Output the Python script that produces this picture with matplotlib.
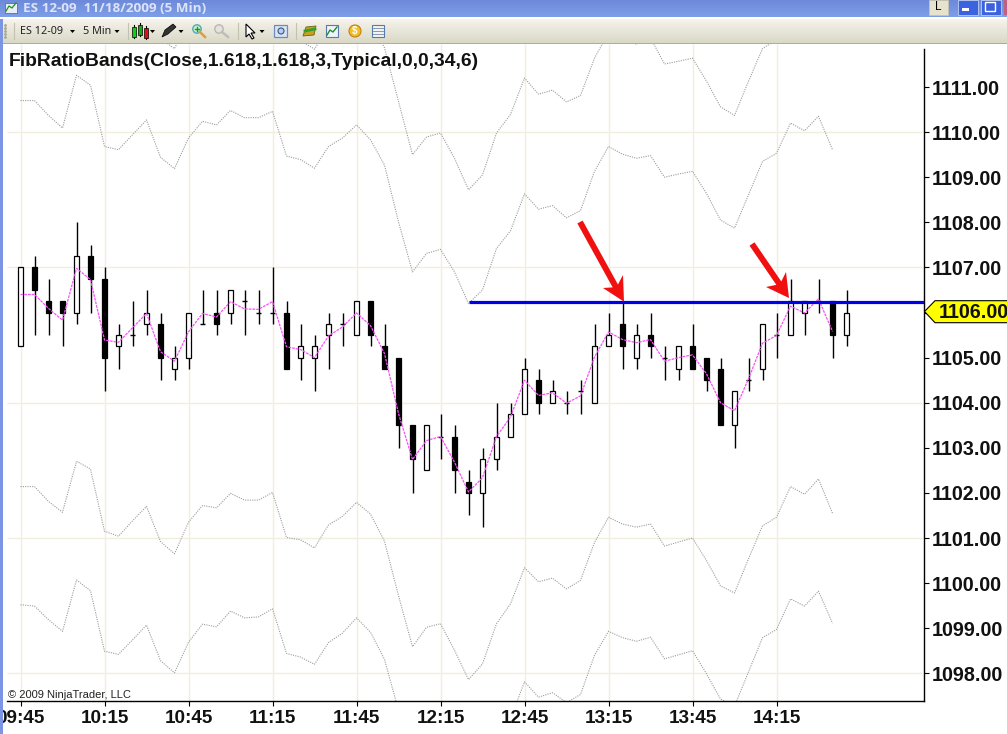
import matplotlib
matplotlib.use("Agg")
import matplotlib.pyplot as plt
import numpy as np
from matplotlib.patches import Polygon, Rectangle, Circle

# ---- data -----
time_labels = ["09:45", "10:15", "10:45", "11:15", "11:45", "12:15", "12:45", "13:15", "13:45", "14:15"]
price_ticks = [1098, 1099, 1100, 1101, 1102, 1103, 1104, 1105, 1106, 1107, 1108, 1109, 1110, 1111]
grid_prices = [1098, 1101, 1104, 1107, 1110]
title_text = "FibRatioBands(Close,1.618,1.618,3,Typical,0,0,34,6)"
level_price = 1106.23
level_start_bar = 32
marker_price = "1106.00"

opens = [1105.25, 1107, 1106.25, 1106.25, 1106, 1107.25, 1106.75, 1105.25, 1105.5, 1105.75,
         1105.75, 1104.75, 1105, 1105.75, 1106, 1106, 1106.25, 1106, 1106, 1106,
         1105, 1105, 1105.5, 1105.75, 1105.5, 1106.25, 1105.25, 1105, 1103.5, 1102.5,
         1103.25, 1103.25, 1102.25, 1102, 1102.75, 1103.25, 1103.75, 1104.5, 1104, 1104,
         1104.25, 1104, 1105.25, 1105.75, 1105, 1105.5, 1105, 1104.75, 1105.25, 1105,
         1104.75, 1103.5, 1104.5, 1104.75, 1105.5, 1105.5, 1106, 1106.25, 1106.25, 1105.5]
closes = [1107, 1106.5, 1106, 1106, 1107.25, 1106.75, 1105, 1105.5, 1105.5, 1106,
          1105, 1105, 1106, 1105.75, 1105.75, 1106.5, 1106.25, 1106, 1106, 1104.75,
          1105.25, 1105.25, 1105.75, 1105.75, 1106.25, 1105.5, 1104.75, 1103.5, 1102.75, 1103.5,
          1103.25, 1102.5, 1102, 1102.75, 1103.25, 1103.75, 1104.75, 1104, 1104.25, 1104,
          1104.25, 1105.25, 1105.5, 1105.25, 1105.5, 1105.25, 1105, 1105.25, 1104.75, 1104.5,
          1103.5, 1104.25, 1104.5, 1105.75, 1105.5, 1106.25, 1106.25, 1106.25, 1105.5, 1106]
highs = [1107, 1107.25, 1106.75, 1106.25, 1108, 1107.5, 1107, 1105.75, 1106.25, 1106.5,
         1106, 1105.25, 1106, 1106.5, 1106.5, 1106.5, 1106.5, 1106.5, 1107, 1106.25,
         1105.75, 1105.5, 1106, 1106, 1106.25, 1106.25, 1105.75, 1105, 1103.5, 1103.5,
         1103.75, 1103.5, 1102.5, 1103, 1104, 1104, 1105, 1104.75, 1104.5, 1104.25,
         1104.5, 1105.75, 1106, 1106.25, 1105.75, 1106, 1105.25, 1105.25, 1105.75, 1105,
         1105, 1104.25, 1105, 1105.75, 1106, 1106.75, 1106.25, 1106.75, 1106.25, 1106.5]
lows = [1105.25, 1105.5, 1105.5, 1105.25, 1105.75, 1106, 1104.25, 1104.75, 1105.25, 1105.5,
        1104.5, 1104.5, 1104.75, 1105.75, 1105.5, 1105.75, 1105.5, 1105.75, 1105.75, 1104.75,
        1104.5, 1104.25, 1104.75, 1105.25, 1105.5, 1105.25, 1104.75, 1103, 1102, 1102.5,
        1102.75, 1102, 1101.5, 1101.25, 1102.5, 1103.25, 1103.75, 1103.75, 1104, 1103.75,
        1103.75, 1104, 1105.25, 1104.75, 1104.75, 1105, 1104.5, 1104.5, 1104.75, 1104.25,
        1103.5, 1103, 1104.25, 1104.5, 1105, 1105.5, 1105.5, 1106, 1105, 1105.25]
typical_ma = [1106.4, 1106.4, 1106.09, 1105.83, 1106.98, 1106.73, 1105.39, 1105.34, 1105.66, 1105.98,
              1105.13, 1104.92, 1105.57, 1105.98, 1105.9, 1106.24, 1106.08, 1106.07, 1106.24, 1105.24,
              1105.18, 1105.0, 1105.48, 1105.68, 1105.99, 1105.71, 1105.09, 1103.76, 1102.74, 1103.16,
              1103.25, 1102.68, 1102.02, 1102.34, 1103.25, 1103.68, 1104.5, 1104.16, 1104.22, 1103.99,
              1104.15, 1105.01, 1105.57, 1105.4, 1105.33, 1105.4, 1104.92, 1105.0, 1105.06, 1104.64,
              1104.0, 1103.82, 1104.53, 1105.32, 1105.49, 1106.14, 1105.99, 1106.3, 1105.58]
upper_outer = [1113.34, 1113.34, 1113.01, 1112.73, 1113.9, 1113.68, 1112.32, 1112.25, 1112.58, 1112.91,
               1112.08, 1111.85, 1112.51, 1112.88, 1112.8, 1113.12, 1112.96, 1112.96, 1113.1, 1112.11,
               1112.03, 1111.84, 1112.32, 1112.51, 1112.8, 1112.47, 1111.87, 1110.68, 1109.5, 1109.89,
               1109.98, 1109.42, 1108.72, 1109.05, 1109.98, 1110.39, 1111.2, 1110.84, 1110.93, 1110.67,
               1110.81, 1111.64, 1112.2, 1112.03, 1111.95, 1112.09, 1111.51, 1111.57, 1111.64, 1111.13,
               1110.56, 1110.37, 1111.13, 1111.85, 1112.05, 1112.75, 1112.58, 1112.9, 1112.15]
upper_inner = [1110.7, 1110.7, 1110.37, 1110.09, 1111.26, 1111.04, 1109.68, 1109.61, 1109.94, 1110.27,
               1109.44, 1109.19, 1109.87, 1110.24, 1110.16, 1110.48, 1110.32, 1110.32, 1110.46, 1109.47,
               1109.39, 1109.2, 1109.68, 1109.87, 1110.16, 1109.83, 1109.27, 1108.01, 1106.9, 1107.31,
               1107.4, 1106.9, 1106.2, 1106.5, 1107.42, 1107.81, 1108.63, 1108.29, 1108.37, 1108.1,
               1108.26, 1109.13, 1109.68, 1109.51, 1109.42, 1109.48, 1109.0, 1109.07, 1109.13, 1108.64,
               1108.05, 1107.87, 1108.61, 1109.35, 1109.53, 1110.2, 1110.03, 1110.35, 1109.61]
lower_inner = [1102.14, 1102.14, 1101.81, 1101.57, 1102.7, 1102.53, 1101.15, 1101.04, 1101.38, 1101.7,
               1100.92, 1100.65, 1101.35, 1101.72, 1101.67, 1101.99, 1101.84, 1101.84, 1102.01, 1101.01,
               1100.96, 1100.78, 1101.29, 1101.48, 1101.79, 1101.53, 1100.93, 1099.72, 1098.59, 1099.02,
               1099.1, 1098.51, 1097.86, 1098.21, 1099.1, 1099.54, 1100.34, 1100.03, 1100.11, 1099.87,
               1100.06, 1100.9, 1101.46, 1101.31, 1101.24, 1101.31, 1100.82, 1100.91, 1101.0, 1100.5,
               1099.94, 1099.78, 1100.54, 1101.27, 1101.46, 1102.14, 1101.97, 1102.31, 1101.55]
lower_outer = [1099.52, 1099.49, 1099.19, 1098.93, 1100.07, 1099.83, 1098.49, 1098.42, 1098.74, 1099.07,
               1098.28, 1098.01, 1098.69, 1099.09, 1099.03, 1099.38, 1099.23, 1099.25, 1099.43, 1098.44,
               1098.36, 1098.2, 1098.68, 1098.89, 1099.23, 1098.91, 1098.31, 1097.18, 1096.05, 1096.4,
               1096.48, 1095.9, 1095.25, 1095.6, 1096.48, 1096.99, 1097.81, 1097.47, 1097.57, 1097.35,
               1097.53, 1098.4, 1098.93, 1098.79, 1098.71, 1098.8, 1098.32, 1098.41, 1098.5, 1097.99,
               1097.43, 1097.27, 1098.03, 1098.79, 1098.97, 1099.65, 1099.49, 1099.82, 1099.11]

# ---- layout -----
W, H = 1007, 734
BAR_PX = 14.0
X0_PX = 20.5
plt.rcParams["font.family"] = ["Liberation Sans", "DejaVu Sans"]
fig = plt.figure(figsize=(W / 100, H / 100), dpi=100, facecolor="white")
ax = fig.add_axes([0, (H - 701) / H, 924 / W, (701 - 44) / H])
x_left = -X0_PX / BAR_PX
x_right = (924 - X0_PX) / BAR_PX
y_at = lambda px: 1107 - (px - 267.4) / 45.1
ax.set_xlim(x_left, x_right)
ax.set_ylim(y_at(701), y_at(44))

GRID = "#F0EFDF"
grid_start = (7 - X0_PX) / BAR_PX
ax.hlines(grid_prices, grid_start, x_right - 0.15, color=GRID, lw=1.0, zorder=1)
tick_bars = [i * 6 for i in range(len(time_labels))]
ax.vlines(tick_bars, y_at(701), y_at(44), color=GRID, lw=1.0, zorder=1)

# bands
for series in (upper_outer, upper_inner, lower_inner, lower_outer):
    ax.plot(range(len(series)), series, color="#9C9C9C", lw=0.8, ls=(0, (1, 1.1)), zorder=2)

# candles
bars = np.arange(len(opens))
ax.vlines(bars, lows, highs, color="black", lw=1.0, zorder=3)
body_w = 4.2 / BAR_PX
for i, o, c in zip(bars, opens, closes):
    lo, hi = min(o, c), max(o, c)
    if o == c:
        ax.hlines(o, i - body_w / 2, i + body_w / 2, color="black", lw=1.0, zorder=4)
    else:
        ax.add_patch(Rectangle((i - body_w / 2, lo), body_w, hi - lo,
                               facecolor="white" if c > o else "black",
                               edgecolor="black", lw=0.9, zorder=4))

# moving average
ax.plot(range(len(typical_ma)), typical_ma, color="#F850F8", lw=0.9, ls=(0, (2.2, 0.8)), zorder=5)

# level line
ax.hlines(level_price, level_start_bar, x_right, color="#0000E6", lw=2.3, zorder=6)

# axes
for s in ("top", "left"):
    ax.spines[s].set_visible(False)
ax.spines["right"].set_bounds(y_at(701), y_at(49))
ax.spines["bottom"].set_bounds(grid_start, x_right)
for s in ("right", "bottom"):
    ax.spines[s].set_linewidth(1.0)
ax.yaxis.tick_right()
ax.set_yticks(price_ticks)
# the 1106 level is shown by the yellow price marker instead of a plain tick label
ax.set_yticklabels(["" if p == 1106 else f"{p:.2f}" for p in price_ticks],
                   fontsize=14.2, fontweight="bold", color="#111111")
ax.set_xticks(tick_bars)
ax.set_xticklabels(time_labels, fontsize=13.6, fontweight="bold", color="#111111")
ax.tick_params(axis="y", length=3.6, width=0.8, pad=2.2)
ax.tick_params(axis="x", length=3.6, width=0.8, pad=3.2)
ax.patch.set_alpha(0)

ax.text(9 / 924, 1 - (61 - 44) / 657, title_text, transform=ax.transAxes, fontsize=13.9,
        fontweight="bold", va="center", ha="left", color="#111111", zorder=8)
ax.text(8 / 924, 1 - (695 - 44) / 657, "© 2009 NinjaTrader, LLC", transform=ax.transAxes, fontsize=8,
        va="center", ha="left", color="#222222", zorder=8)

# ---- pixel overlay: window chrome, arrows, price marker -----
ov = fig.add_axes([0, 0, 1, 1], zorder=10)
ov.set_xlim(0, W)
ov.set_ylim(H, 0)
ov.axis("off")
ov.patch.set_alpha(0)

def grad(x0, x1, y0, y1, c0, c1, z=1):
    c0 = np.array(matplotlib.colors.to_rgb(c0))
    c1 = np.array(matplotlib.colors.to_rgb(c1))
    t = np.linspace(0, 1, 32)[:, None, None]
    img = c0[None, None, :] * (1 - t) + c1[None, None, :] * t
    ov.imshow(img, extent=(x0, x1, y1, y0), aspect="auto", zorder=z, interpolation="bilinear")

grad(0, W, 0, 17.5, "#6C88D8", "#7E9FE8")
ov.add_patch(Rectangle((0, 17.5), W, 1.5, fc="white", ec="none", zorder=1))
grad(0, W, 19, 43, "#F6F4EC", "#DAD8C6")
ov.add_patch(Rectangle((0, 42.5), W, 1.2, fc="#B0AE90", ec="none", zorder=2))
ov.add_patch(Rectangle((0, 19), 2.5, H - 19, fc="#7B95E4", ec="none", zorder=2))
ov.set_xlim(0, W)
ov.set_ylim(H, 0)

ov.text(23, 8, "ES 12-09  11/18/2009 (5 Min)", fontsize=9.7, fontweight="bold", color="#DDE4F8",
        family=["Open Sans", "DejaVu Sans"], va="center", zorder=3)
ov.text(20, 31.5, "ES 12-09", fontsize=7.8, family=["Noto Sans", "DejaVu Sans"], va="center", color="#222222", zorder=3)
ov.text(83, 31.5, "5 Min", fontsize=7.8, family=["Noto Sans", "DejaVu Sans"], va="center", color="#222222", zorder=3)

def tri(x, y=31.5):
    ov.add_patch(Polygon([(x - 2.5, y - 1.5), (x + 2.5, y - 1.5), (x, y + 1.5)], fc="black", ec="none", zorder=3))
for tx in (72.5, 117, 152.5, 181, 262):
    tri(tx)
for sx in (14, 128, 238, 296):
    ov.plot([sx, sx], [23, 39], color="#C4C2AE", lw=0.8, zorder=3)
ov.scatter([5] * 5, [25, 28, 31, 34, 37], s=1, color="#A8A690", zorder=3)

# candlestick icon
for cx, yb, yt, col in ((134, 27, 37, "#10D010"), (140, 25, 35, "#20A020"), (146, 28, 38, "#E01010")):
    ov.plot([cx, cx], [yb - 2, yt + 1], color="black", lw=0.8, zorder=3)
    ov.add_patch(Rectangle((cx - 2, yb), 4, yt - yb, fc=col, ec="black", lw=0.5, zorder=4))
# pencil
ov.add_patch(Polygon([(162, 37), (165, 30), (173, 24), (176, 27), (168, 34)], fc="#333333", ec="black", lw=0.5, zorder=3))
# magnifiers
ov.add_patch(Circle((197, 29), 4.2, fc="#C8F0C8", ec="#50A8C0", lw=1, zorder=3))
ov.plot([200, 205], [32, 37], color="#D8A040", lw=1.8, zorder=3)
ov.plot([195, 199], [29, 29], color="#10A010", lw=1, zorder=4)
ov.plot([197, 197], [27, 31], color="#10A010", lw=1, zorder=4)
ov.add_patch(Circle((219, 29), 4.2, fc="#E4E4DC", ec="#B8B8B0", lw=1, zorder=3))
ov.plot([222, 228], [32, 37], color="#BEBEB6", lw=1.8, zorder=3)
# cursor
ov.add_patch(Polygon([(246, 24), (246, 37), (249, 34), (252, 39), (254, 38), (251, 33), (255, 33)],
                     fc="white", ec="black", lw=0.8, zorder=3))
# misc icons
ov.add_patch(Rectangle((274, 25), 13, 12, fc="#D8E4F4", ec="#6C8CC0", lw=0.9, zorder=3))
ov.add_patch(Circle((281, 31), 3, fc="#B8D0F0", ec="#405080", lw=0.8, zorder=4))
ov.add_patch(Polygon([(303, 36), (306, 27), (316, 26), (314, 35)], fc="#C8A020", ec="#706010", lw=0.6, zorder=3))
ov.plot([305, 315], [31, 29], color="#30A030", lw=2, zorder=4)
ov.add_patch(Rectangle((326, 25), 12, 12, fc="#EEF2FA", ec="#5878B0", lw=0.8, zorder=3))
ov.plot([327, 330, 333, 337], [35, 30, 32, 27], color="#209020", lw=1, zorder=4)
ov.add_patch(Circle((355, 31), 6, fc="#F4C020", ec="#C08010", lw=0.8, zorder=3))
ov.text(355, 31, "$", fontsize=7, fontweight="bold", color="white", ha="center", va="center", zorder=4)
ov.add_patch(Rectangle((372, 25), 12, 12, fc="#F4F4EE", ec="#5878B0", lw=0.8, zorder=3))
for ly in (28, 31, 34):
    ov.plot([373, 383], [ly, ly], color="#7088B0", lw=0.6, zorder=4)
# window icon
ov.add_patch(Rectangle((5, 3), 12, 10, fc="#E8EEF8", ec="#5070B0", lw=0.6, zorder=3))
ov.plot([6, 9, 12, 16], [11, 6, 8, 3], color="#209020", lw=0.9, zorder=4)
# window buttons
ov.add_patch(Rectangle((929, 0), 19, 15, fc="#E6E2CE", ec="#C8C4B0", lw=0.6, zorder=3))
ov.text(938.5, 6.5, "L", fontsize=8.5, color="black", ha="center", va="center", zorder=4)
ov.add_patch(Rectangle((958, 0), 20, 15, fc="#3C62E0", ec="#B0C4F0", lw=0.7, zorder=3))
ov.add_patch(Rectangle((962, 8), 7, 2.5, fc="white", ec="none", zorder=4))
ov.add_patch(Rectangle((981, 0), 20, 15, fc="#3C62E0", ec="#B0C4F0", lw=0.7, zorder=3))
ov.add_patch(Rectangle((985, 2), 10, 9, fc="none", ec="white", lw=1, zorder=4))
ov.add_patch(Rectangle((1004, 0), 4, 15, fc="#C06080", ec="none", zorder=3))

# arrows
arrows = [
    ((580, 222), (624, 301.7), (603, 288), (623, 275)),
    ((752, 244), (789, 298), (766, 287), (786, 272)),
]
for tail, tip, h1, h2 in arrows:
    t = np.array(tail, float)
    p = np.array(tip, float)
    d = (p - t) / np.linalg.norm(p - t)
    n = np.array([-d[1], d[0]])
    neck = p - d * 18
    hw = 3.0
    pts = [t + n * hw, neck + n * hw, h1, tip, h2, neck - n * hw, t - n * hw]
    ov.add_patch(Polygon(pts, closed=True, fc="#F01010", ec="none", zorder=6))

# price marker
ov.add_patch(Polygon([(924.5, 311.5), (935, 300.7), (1010, 300.7), (1010, 322.7), (935, 322.7)],
                     closed=True, fc="#FFFF00", ec="black", lw=0.8, zorder=6))
ov.text(939, 312, marker_price, fontsize=14.2, fontweight="bold", color="#111111", va="center", ha="left", zorder=7)

fig.savefig("out.png", dpi=100)
